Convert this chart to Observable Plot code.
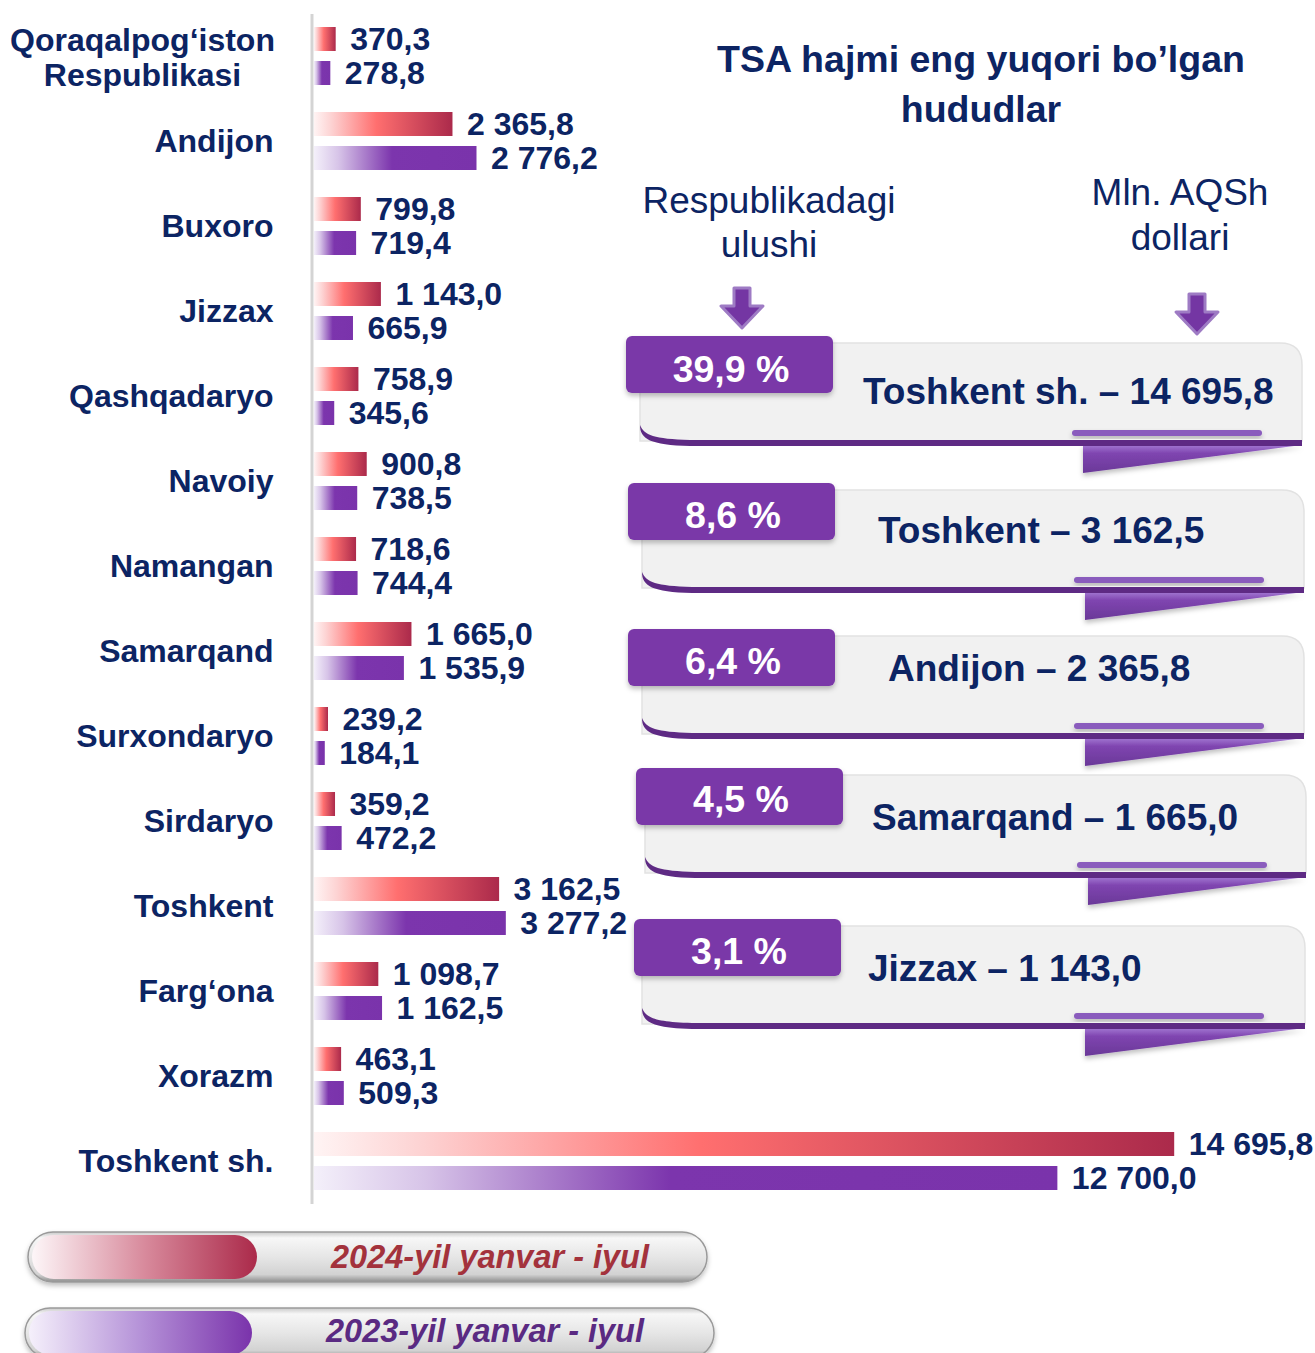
<!DOCTYPE html>
<html>
<head>
<meta charset="utf-8">
<script src="https://cdn.jsdelivr.net/npm/d3@7"></script>
<script src="https://cdn.jsdelivr.net/npm/@observablehq/plot@0.6"></script>
<style>
  html, body { margin: 0; padding: 0; background: #fff; }
  #wrap { position: relative; width: 1315px; height: 1353px; overflow: hidden; font-family: "Liberation Sans", Arial, sans-serif; }
  #wrap > svg { position: absolute; left: 0; top: 0; }
</style>
</head>
<body>
<div id="wrap"></div>
<script>
// ---------- DATA ----------
const regions = ["Qoraqalpog‘iston\nRespublikasi", "Andijon", "Buxoro", "Jizzax", "Qashqadaryo", "Navoiy", "Namangan", "Samarqand", "Surxondaryo", "Sirdaryo", "Toshkent", "Farg‘ona", "Xorazm", "Toshkent sh."];
const v2024 = [370.3, 2365.8, 799.8, 1143.0, 758.9, 900.8, 718.6, 1665.0, 239.2, 359.2, 3162.5, 1098.7, 463.1, 14695.8];
const v2023 = [278.8, 2776.2, 719.4, 665.9, 345.6, 738.5, 744.4, 1535.9, 184.1, 472.2, 3277.2, 1162.5, 509.3, 12700.0];
const seriesNames = ["2024-yil yanvar - iyul", "2023-yil yanvar - iyul"];

const topRegions = ["Toshkent sh.", "Toshkent", "Andijon", "Samarqand", "Jizzax"];
const topShare = [39.9, 8.6, 6.4, 4.5, 3.1];
const titleLines = ["TSA hajmi eng yuqori bo’lgan", "hududlar"];
const shareHeader = ["Respublikadagi", "ulushi"];
const unitHeader = ["Mln. AQSh", "dollari"];

// ---------- HELPERS ----------
const loc = d3.formatLocale({decimal: ",", thousands: "\u00a0", grouping: [3]});
const fmt = loc.format(",.1f");
const navy = "#0c2463";

const data24 = regions.map((r, i) => ({region: r, year: "2024", value: v2024[i]}));
const data23 = regions.map((r, i) => ({region: r, year: "2023", value: v2023[i]}));

const plot = Plot.plot({
  width: 1315, height: 1210,
  marginLeft: 314, marginRight: 123, marginTop: 13, marginBottom: 5,
  x: {domain: [0, 15000], axis: null},
  y: {domain: ["2024", "2023"], axis: null, paddingInner: 0.2857, paddingOuter: 0.36},
  fy: {domain: regions, axis: null, padding: 0},
  style: {fontFamily: "'Liberation Sans', Arial, sans-serif", overflow: "visible", background: "transparent"},
  marks: [
    Plot.ruleX([0], {stroke: "#d4d4d4", strokeWidth: 3, dx: -2.5}),
    Plot.barX(data24, {fy: "region", y: "year", x: "value", fill: "url(#g24)"}),
    Plot.barX(data23, {fy: "region", y: "year", x: "value", fill: "url(#g23)"}),
    Plot.text(data24, {fy: "region", y: "year", x: "value", text: d => fmt(d.value), dx: 14, textAnchor: "start", fontSize: 32, fontWeight: "bold", fill: navy}),
    Plot.text(data23, {fy: "region", y: "year", x: "value", text: d => fmt(d.value), dx: 14, textAnchor: "start", fontSize: 32, fontWeight: "bold", fill: navy}),
    Plot.text(regions.slice(1), {fy: d => d, text: d => d, frameAnchor: "left", dx: -41, textAnchor: "end", fontSize: 32, fontWeight: "bold", fill: navy}),
    Plot.text(regions.slice(0, 1), {fy: d => d, text: d => d, frameAnchor: "left", dx: -172, textAnchor: "middle", lineHeight: 1.1, fontSize: 32, fontWeight: "bold", fill: navy})
  ]
});

// gradient defs for bars
const ps = d3.select(plot);
const pdefs = ps.insert("defs", ":first-child");
const g24 = pdefs.append("linearGradient").attr("id", "g24").attr("x1", 0).attr("x2", 1).attr("y1", 0).attr("y2", 0);
[[0, "#fff4f4"], [0.12, "#fdd4d4"], [0.45, "#ff6f6f"], [1, "#ab2a4b"]].forEach(([o, c]) => g24.append("stop").attr("offset", o).attr("stop-color", c));
const g23 = pdefs.append("linearGradient").attr("id", "g23").attr("x1", 0).attr("x2", 1).attr("y1", 0).attr("y2", 0);
[[0, "#f4f0fa"], [0.15, "#d7c4e8"], [0.48, "#7c35ad"], [1, "#7a33ab"]].forEach(([o, c]) => g23.append("stop").attr("offset", o).attr("stop-color", c));
const f24 = pdefs.append("filter").attr("id", "sh24").attr("x", "-5%").attr("y", "-30%").attr("width", "110%").attr("height", "180%");
f24.append("feDropShadow").attr("dx", 0).attr("dy", 3).attr("stdDeviation", 2.5).attr("flood-color", "#f2b98c").attr("flood-opacity", 0.75);
const f23 = pdefs.append("filter").attr("id", "sh23").attr("x", "-5%").attr("y", "-30%").attr("width", "110%").attr("height", "180%");
f23.append("feDropShadow").attr("dx", 0).attr("dy", 4).attr("stdDeviation", 3).attr("flood-color", "#c9d6ec").attr("flood-opacity", 0.6);
ps.selectAll("g[aria-label='bar']").each(function() {
  const f = this.getAttribute("fill");
  if (f === "url(#g24)") d3.select(this).attr("filter", "url(#sh24)");
  if (f === "url(#g23)") d3.select(this).attr("filter", "url(#sh23)");
});

document.getElementById("wrap").appendChild(plot);

// ---------- OVERLAY: right panel + legend ----------
const ov = d3.select("#wrap").append("svg").attr("width", 1315).attr("height", 1353)
  .style("font-family", "'Liberation Sans', Arial, sans-serif");
const defs = ov.append("defs");
const sh = defs.append("filter").attr("id", "soft").attr("x", "-10%").attr("y", "-20%").attr("width", "120%").attr("height", "160%");
sh.append("feDropShadow").attr("dx", 0).attr("dy", 3).attr("stdDeviation", 2.5).attr("flood-color", "#000").attr("flood-opacity", 0.25);
const fold = defs.append("linearGradient").attr("id", "fold").attr("x1", 0).attr("x2", 0).attr("y1", 0).attr("y2", 1);
[[0, "#a277d2"], [0.3, "#7f45b0"], [1, "#6a3898"]].forEach(([o, c]) => fold.append("stop").attr("offset", o).attr("stop-color", c));
const pillG = defs.append("linearGradient").attr("id", "pill").attr("x1", 0).attr("x2", 0).attr("y1", 0).attr("y2", 1);
[[0, "#c9c9c9"], [0.12, "#f7f7f7"], [0.5, "#e6e6e6"], [0.85, "#d2d2d2"], [1, "#8e8e8e"]].forEach(([o, c]) => pillG.append("stop").attr("offset", o).attr("stop-color", c));
const l24 = defs.append("linearGradient").attr("id", "l24").attr("x1", 0).attr("x2", 1);
[[0, "#fdf6f8"], [0.5, "#d88a9c"], [1, "#ab2a4a"]].forEach(([o, c]) => l24.append("stop").attr("offset", o).attr("stop-color", c));
const l23 = defs.append("linearGradient").attr("id", "l23").attr("x1", 0).attr("x2", 1);
[[0, "#f5f0fb"], [0.5, "#b592d8"], [1, "#7a33ab"]].forEach(([o, c]) => l23.append("stop").attr("offset", o).attr("stop-color", c));

// title
titleLines.forEach((t, i) => ov.append("text").attr("x", 981).attr("y", 58 + i * 50).attr("dy", "0.36em")
  .attr("text-anchor", "middle").attr("font-size", 37.5).attr("font-weight", "bold").attr("fill", navy).text(t));
shareHeader.forEach((t, i) => ov.append("text").attr("x", 769).attr("y", 200 + i * 44).attr("dy", "0.36em")
  .attr("text-anchor", "middle").attr("font-size", 37).attr("fill", navy).text(t));
unitHeader.forEach((t, i) => ov.append("text").attr("x", 1180).attr("y", 192 + i * 45).attr("dy", "0.36em")
  .attr("text-anchor", "middle").attr("font-size", 37).attr("fill", navy).text(t));

// arrows
function arrow(cx, y0) {
  const p = `M${cx - 8},${y0} L${cx + 8},${y0} L${cx + 8},${y0 + 18} L${cx + 21},${y0 + 18} L${cx},${y0 + 40} L${cx - 21},${y0 + 18} L${cx - 8},${y0 + 18} Z`;
  ov.append("path").attr("d", p).attr("fill", "#7436a3").attr("stroke", "#9e7bc4").attr("stroke-width", 3).attr("stroke-linejoin", "round");
}
arrow(742, 288);
arrow(1197, 294);

// ribbons (layout positions)
const tabPos = [[626, 336], [628, 483], [628, 629], [636, 768], [634, 919]];
const boxLeft = [640, 642, 642, 645, 642];
const boxRight = [1302, 1304, 1304, 1306, 1305];
const labelX = [863, 878, 888, 872, 868];
const labelY = [391, 530, 668, 817, 968];
const pctY = [368, 514, 660, 798, 950];
const shareFmt = loc.format(".1f");

topRegions.forEach((r, i) => {
  const [tx, ty] = tabPos[i];
  const bx = boxLeft[i], by = ty + 7, bw = boxRight[i] - bx, bh = 98;
  const g = ov.append("g");
  g.append("path").attr("d",
    `M${bx},${by} L${bx + bw - 22},${by} Q${bx + bw},${by} ${bx + bw},${by + 22} L${bx + bw},${by + bh} L${bx},${by + bh} Z`)
    .attr("fill", "#f1f1f1").attr("stroke", "#e2e2e2").attr("stroke-width", 1.5);
  g.append("path").attr("d", `M${bx + 443},${by + bh + 4} L${bx + bw},${by + bh + 4} L${bx + 443},${by + bh + 32} Z`)
    .attr("fill", "url(#fold)").attr("filter", "url(#soft)");
  g.append("path").attr("d",
    `M${bx},${by + bh - 16} C${bx},${by + bh - 2} ${bx + 10},${by + bh + 4} ${bx + 50},${by + bh + 5} L${bx + bw},${by + bh + 5} L${bx + bw},${by + bh - 1} L${bx + 50},${by + bh - 1} C${bx + 14},${by + bh - 2} ${bx + 4},${by + bh - 6} ${bx},${by + bh - 16} Z`)
    .attr("fill", "#5e2a84");
  g.append("rect").attr("x", bx + 432).attr("y", by + bh - 11).attr("width", 190).attr("height", 6).attr("rx", 3)
    .attr("fill", "#8a5bbd").attr("filter", "url(#soft)");
  g.append("rect").attr("x", tx).attr("y", ty).attr("width", 207).attr("height", 57).attr("rx", 6)
    .attr("fill", "#7a37a8").attr("filter", "url(#soft)");
  g.append("text").attr("x", tx + 105).attr("y", pctY[i]).attr("dy", "0.36em").attr("text-anchor", "middle")
    .attr("font-size", 37.5).attr("font-weight", "bold").attr("fill", "#fff").text(shareFmt(topShare[i]) + " %");
  const val = v2024[regions.indexOf(r)];
  g.append("text").attr("x", labelX[i]).attr("y", labelY[i]).attr("dy", "0.36em").attr("text-anchor", "start")
    .attr("font-size", 37).attr("font-weight", "bold").attr("fill", navy).text(`${r} – ${fmt(val)}`);
});

// legend pills
const pills = [
  {x: 28, y: 1232, w: 679, cw: 225, fill: "url(#l24)", color: "#a3323c", tx: 490, ty: 1256},
  {x: 25, y: 1308, w: 689, cw: 223, fill: "url(#l23)", color: "#5a2a82", tx: 485, ty: 1330}
];
pills.forEach((p, i) => {
  const g = ov.append("g");
  g.append("rect").attr("x", p.x).attr("y", p.y).attr("width", p.w).attr("height", 50).attr("rx", 25)
    .attr("fill", "url(#pill)").attr("stroke", "#9a9a9a").attr("stroke-width", 1.5).attr("filter", "url(#soft)");
  g.append("rect").attr("x", p.x + 4).attr("y", p.y + 3).attr("width", p.cw).attr("height", 44).attr("rx", 22)
    .attr("fill", p.fill);
  g.append("text").attr("x", p.tx).attr("y", p.ty).attr("dy", "0.36em").attr("text-anchor", "middle")
    .attr("font-size", 32.5).attr("font-weight", "bold").attr("font-style", "italic").attr("fill", p.color).text(seriesNames[i]);
});
</script>
</body>
</html>
